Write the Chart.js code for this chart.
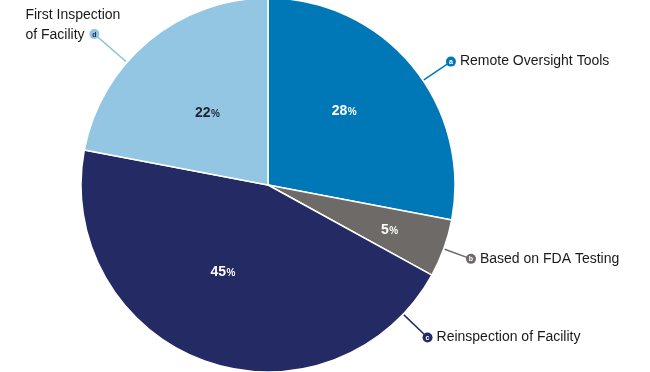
<!DOCTYPE html>
<html>
<head>
<meta charset="utf-8">
<script src="https://cdn.jsdelivr.net/npm/chart.js@4/dist/chart.umd.min.js"></script>
<style>
  html, body { margin: 0; padding: 0; background: #fff; }
  #wrap { width: 650px; height: 372px; }
</style>
</head>
<body>
<div id="wrap"><canvas id="pieChart"></canvas></div>
<script>
const categories = ['Remote Oversight Tools', 'Based on FDA Testing', 'Reinspection of Facility', 'First Inspection of Facility'];
const shares = [28, 5, 45, 22];
const letters = ['a', 'b', 'c', 'd'];

const sliceColors = ['#0078b8', '#6d6a67', '#232a64', '#93c6e3'];
const pctColors = ['#ffffff', '#ffffff', '#ffffff', '#1f2430'];
const letterColors = ['#ffffff', '#ffffff', '#ffffff', '#232a64'];

// where the percent text sits: angle offset from slice middle (deg), fraction of radius
const pctPlace = [[-5, 0.57], [0, 0.69], [8, 0.52], [0, 0.51]];
// leader lines: angle from top (deg), marker distance as fraction of radius
const leaderPlace = [[56, 1.18], [110, 1.155], [133.7, 1.18], [311, 1.23]];
// label text lines
const labelLines = [['Remote Oversight Tools'], ['Based on FDA Testing'], ['Reinspection of Facility'], ['First Inspection', 'of Facility']];

const sliceLabels = {
    id: 'sliceLabels',
    afterDatasetsDraw(chart) {
        const ctx = chart.ctx;
        const meta = chart.getDatasetMeta(0);
        meta.data.forEach((arc, i) => {
            const { x, y, outerRadius, startAngle, endAngle } = arc.getProps(['x', 'y', 'outerRadius', 'startAngle', 'endAngle'], true);

            // percent text
            const mid = (startAngle + endAngle) / 2 + pctPlace[i][0] * Math.PI / 180;
            const r = outerRadius * pctPlace[i][1];
            const px = x + Math.cos(mid) * r;
            const py = y + Math.sin(mid) * r;
            ctx.save();
            ctx.fillStyle = pctColors[i];
            ctx.textBaseline = 'alphabetic';
            ctx.font = 'bold 14px "Liberation Sans", Arial, sans-serif';
            const num = String(shares[i]);
            const nw = ctx.measureText(num).width;
            ctx.font = 'bold 10px "Liberation Sans", Arial, sans-serif';
            const sw = ctx.measureText('%').width;
            const left = px - (nw + sw) / 2;
            ctx.font = 'bold 14px "Liberation Sans", Arial, sans-serif';
            ctx.textAlign = 'left';
            ctx.fillText(num, left, py + 5);
            ctx.font = 'bold 10px "Liberation Sans", Arial, sans-serif';
            ctx.fillText('%', left + nw + 0.5, py + 5);
            ctx.restore();

            // leader line + marker
            const a = (leaderPlace[i][0] - 90) * Math.PI / 180;
            const sx = x + Math.cos(a) * (outerRadius + 1);
            const sy = y + Math.sin(a) * (outerRadius + 1);
            const mx = x + Math.cos(a) * outerRadius * leaderPlace[i][1];
            const my = y + Math.sin(a) * outerRadius * leaderPlace[i][1];
            ctx.save();
            ctx.strokeStyle = sliceColors[i];
            ctx.lineWidth = 1.5;
            ctx.beginPath();
            ctx.moveTo(sx, sy);
            ctx.lineTo(mx, my);
            ctx.stroke();
            ctx.fillStyle = sliceColors[i];
            ctx.beginPath();
            ctx.arc(mx, my, 5, 0, Math.PI * 2);
            ctx.fill();
            ctx.fillStyle = letterColors[i];
            ctx.font = 'bold 7px "Liberation Sans", Arial, sans-serif';
            ctx.textAlign = 'center';
            ctx.textBaseline = 'middle';
            ctx.fillText(letters[i], mx, my + 0.5);

            // category text
            ctx.fillStyle = '#1a1a1a';
            ctx.font = '14px "Liberation Sans", Arial, sans-serif';
            ctx.textBaseline = 'middle';
            const lines = labelLines[i];
            if (i === 3) {
                ctx.textAlign = 'left';
                ctx.fillText(lines[0], mx - 69, my - 19);
                ctx.fillText(lines[1], mx - 69, my + 1);
            } else {
                ctx.textAlign = 'left';
                ctx.fillText(lines[0], mx + 9, my);
            }
            ctx.restore();
        });
    }
};

new Chart(document.getElementById('pieChart'), {
    type: 'pie',
    data: {
        labels: categories,
        datasets: [{
            data: shares,
            backgroundColor: sliceColors,
            borderColor: '#ffffff',
            borderWidth: 1.5,
            radius: 187
        }]
    },
    options: {
        responsive: true,
        maintainAspectRatio: false,
        animation: false,
        layout: { padding: { top: 0, bottom: 2, left: 83, right: 197 } },
        plugins: {
            legend: { display: false },
            tooltip: { enabled: false }
        }
    },
    plugins: [sliceLabels]
});
</script>
</body>
</html>
